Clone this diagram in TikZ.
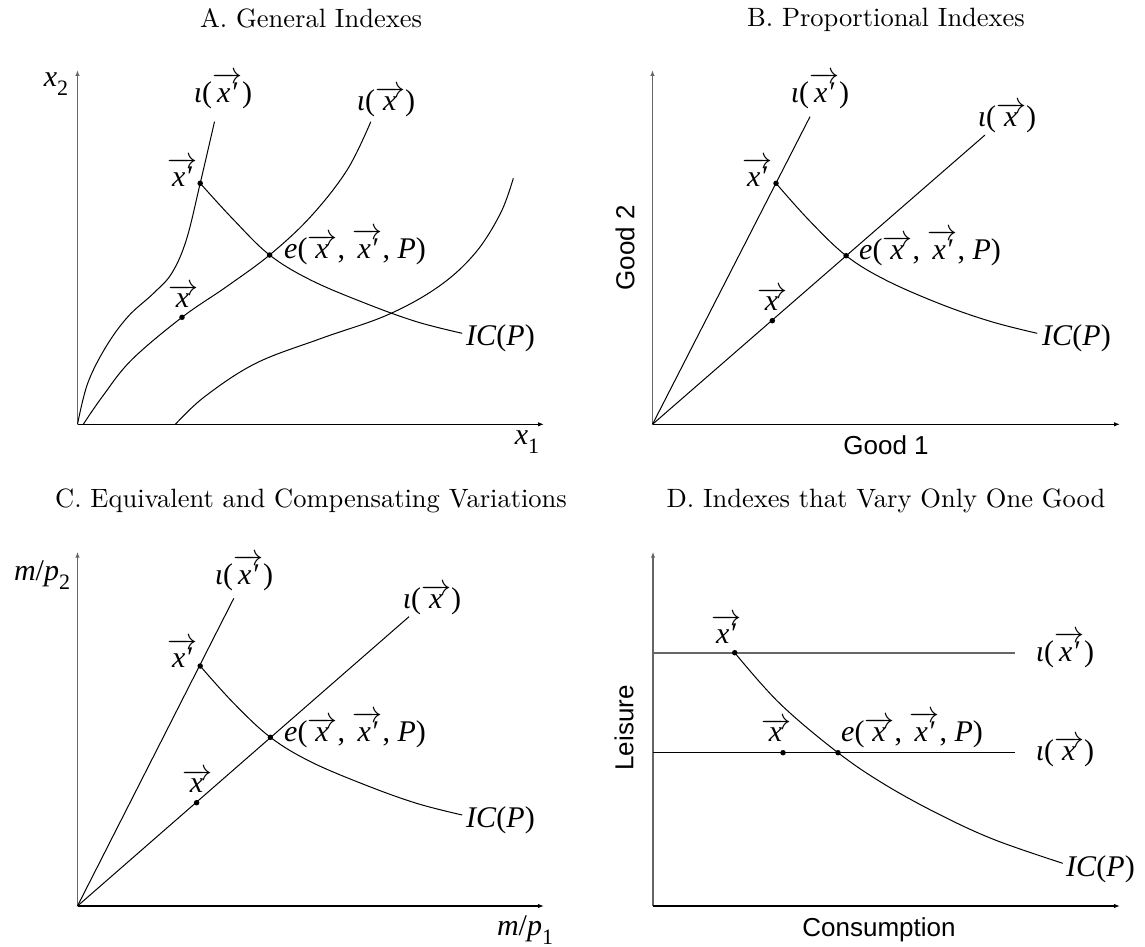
\RequirePackage{fix-cm}
\documentclass[tikz,border=0pt]{standalone}
\usepackage{fontspec}
\newfontfamily\tms{Liberation Serif}
\newfontfamily\hel{Liberation Sans}
\newfontfamily\cmten{lmroman10-regular}[Extension=.otf]
\usetikzlibrary{arrows.meta}
\newcommand\vx{\overrightarrow{\mbox{\itshape x\kern1pt}}}
\newcommand\vxp{\overrightarrow{\mbox{\itshape x′}}}
\newcommand\iot{\textit{ι}}
\newcommand\elab{\textit{e}($\vx$, $\vxp$, \textit{P})}
\newcommand\iclab{\textit{IC}(\textit{P})}
\newcommand\subtwo[1]{\raisebox{-0.3em}{\fontsize{22}{22}\selectfont #1}}
\tikzset{
  yaxisln/.style={draw=black!60, line width=1.8pt, -{Latex[length=6pt,width=4.5pt]}},
  xaxisln/.style={draw=black, line width=1.2pt, -{Latex[length=6pt,width=4.5pt]}},
  crv/.style={line width=1pt},
  dotn/.style={circle, fill, inner sep=0pt, minimum size=5.5pt},
  lab/.style={font=\tms\fontsize{30}{32}\selectfont, inner sep=0pt},
  ttl/.style={font=\cmten\fontsize{26.5}{30}\selectfont, inner sep=0pt, anchor=base},
  sans/.style={font=\hel\fontsize{26}{28}\selectfont, inner sep=0pt}
}
\begin{document}
\begin{tikzpicture}[x=1pt,y=-1pt]
\useasboundingbox (0,0) rectangle (1145,947);
% ---------------- Titles
\node[ttl] (tA) at (311,28) {A. General Indexes};
\node[ttl] (tB) at (886,27) {B. Proportional Indexes};
\node[ttl] (tC) at (311,507) {C. Equivalent and Compensating Variations};
\node[ttl] (tD) at (886,507) {D. Indexes that Vary Only One Good};

% ---------------- Panel A
\coordinate (Ao) at (77.5,424.3);
\coordinate (Ay) at (77.5,70);
\coordinate (Ax) at (544,424.3);
\draw[yaxisln] (Ao) -- (Ay);
\draw[xaxisln] (Ao) -- (Ax);
\draw[crv] plot[smooth, tension=0.6] coordinates {(77.5,424.3) (87.7,383.3) (106,346.7) (127.9,316.7) (153.5,293.3) (171.7,273.3) (186.3,240) (200.2,183.3) (214.5,121.7)};
\draw[crv] plot[smooth, tension=0.6] coordinates {(83.3,424.3) (102.3,396.7) (131.5,360) (182,317.3) (226.5,286.7) (269.6,255) (310.6,216.7) (347.1,170) (370.8,121.7)};
\draw[crv] plot[smooth, tension=0.6] coordinates {(175.4,424.3) (204.6,396.7) (255.8,363.3) (321.5,338.3) (387.3,315) (438.4,286.7) (475,253.3) (500.5,213.3) (513.3,178.3)};
\draw[crv] plot[smooth, tension=0.6] coordinates {(200.2,183.3) (233.8,220) (269.6,255) (310.6,280) (365.4,303.3) (416.5,321.7) (462.2,333.3)};
\node[dotn] (Axp) at (200.2,183.3) {};
\node[dotn] (Ae) at (269.6,255) {};
\node[dotn] (Axx) at (182,317.3) {};
\node[lab] (Alx2) at (56,84) {\textit{x}\subtwo{2}};
\node[lab] (Alx1) at (527,442) {\textit{x}\subtwo{1}};
\node[lab] (Ali1) at (223,91) {\iot($\vxp$)};
\node[lab] (Ali2) at (386,102) {\iot($\vx$)};
\node[lab] (Alxp) at (182,172) {$\vxp$};
\node[lab] (Alx) at (183,296) {$\vx$};
\node[lab, anchor=west] (Ale) at (284,247) {\elab};
\node[lab, anchor=west] (Alic) at (466,338) {\iclab};

% ---------------- Panel B
\coordinate (Bo) at (652.5,424.3);
\coordinate (By) at (652.5,70);
\coordinate (Bx) at (1120,424.3);
\draw[yaxisln] (Bo) -- (By);
\draw[xaxisln] (Bo) -- (Bx);
\coordinate (Br1) at (810,116.7);
\coordinate (Br2) at (985,135);
\draw[crv] (Bo) -- (Br1);
\draw[crv] (Bo) -- (Br2);
\draw[crv] plot[smooth, tension=0.6] coordinates {(776,183.3) (808.8,220) (846.1,255.7) (885.6,280) (940.4,304) (991.5,321.7) (1037.2,333.3)};
\node[dotn] (Bxp) at (776,183.3) {};
\node[dotn] (Be) at (846.1,255.7) {};
\node[dotn] (Bxx) at (772.3,320.7) {};
\node[sans, rotate=90] (Bg2) at (625,248) {Good 2};
\node[sans] (Bg1) at (886,445) {Good 1};
\node[lab] (Bli1) at (820,91) {\iot($\vxp$)};
\node[lab] (Bli2) at (1007,118) {\iot($\vx$)};
\node[lab] (Blxp) at (757,172) {$\vxp$};
\node[lab] (Blx) at (772,299) {$\vx$};
\node[lab, anchor=west] (Ble) at (859,248) {\elab};
\node[lab, anchor=west] (Blic) at (1042,338) {\iclab};

% ---------------- Panel C
\coordinate (Co) at (77.5,906);
\coordinate (Cy) at (77.5,551.7);
\coordinate (Cx) at (544,906);
\draw[yaxisln] (Co) -- (Cy);
\draw[xaxisln] (Co) -- (Cx);
\coordinate (Cr1) at (233.8,598.3);
\coordinate (Cr2) at (409,616.7);
\draw[crv] (Co) -- (Cr1);
\draw[crv] (Co) -- (Cr2);
\draw[crv] plot[smooth, tension=0.6] coordinates {(200.2,666) (233.8,703.3) (270.4,737.3) (310.6,761.7) (365.4,785) (416.5,803.3) (462.2,815)};
\node[dotn] (Cxp) at (200.2,666) {};
\node[dotn] (Ce) at (270.4,737.3) {};
\node[dotn] (Cxx) at (196.6,802.7) {};
\node[lab] (Clmp2) at (42,575) {\textit{m}/\textit{p}\subtwo{2}};
\node[lab] (Clmp1) at (525,930) {\textit{m}/\textit{p}\subtwo{1}};
\node[lab] (Cli1) at (244,573) {\iot($\vxp$)};
\node[lab] (Cli2) at (432,600) {\iot($\vx$)};
\node[lab] (Clxp) at (182,653) {$\vxp$};
\node[lab] (Clx) at (197,781) {$\vx$};
\node[lab, anchor=west] (Cle) at (284,730) {\elab};
\node[lab, anchor=west] (Clic) at (466,820) {\iclab};

% ---------------- Panel D
\coordinate (Do) at (653,906);
\coordinate (Dy) at (653,551.7);
\coordinate (Dx) at (1120,906);
\draw[yaxisln] (Do) -- (Dy);
\draw[xaxisln] (Do) -- (Dx);
\coordinate (Dh1a) at (653,652.7);
\coordinate (Dh1b) at (1015,652.7);
\coordinate (Dh2a) at (653,752.7);
\coordinate (Dh2b) at (1015,752.7);
\draw[draw=black!60, line width=1.8pt] (Dh1a) -- (Dh1b);
\draw[crv] (Dh2a) -- (Dh2b);
\draw[crv] plot[smooth, tension=0.6] coordinates {(734.7,652.7) (779.6,703.3) (838,752.7) (885.6,785) (940.4,815) (995.2,840) (1062.8,863.3)};
\node[dotn] (Dxp) at (734.7,652.7) {};
\node[dotn] (Dxx) at (783,752.7) {};
\node[dotn] (De) at (838,752.7) {};
\node[sans, rotate=90] (Dlei) at (624,728) {Leisure};
\node[sans] (Dcon) at (879,930) {Consumption};
\node[lab] (Dli1) at (1065,650) {\iot($\vxp$)};
\node[lab] (Dli2) at (1065,752) {\iot($\vx$)};
\node[lab] (Dlxp) at (726,629) {$\vxp$};
\node[lab] (Dlx) at (776,730) {$\vx$};
\node[lab] (Dle) at (912,730) {\elab};
\node[lab, anchor=west] (Dlic) at (1066,869) {\iclab};
\end{tikzpicture}
\end{document}
